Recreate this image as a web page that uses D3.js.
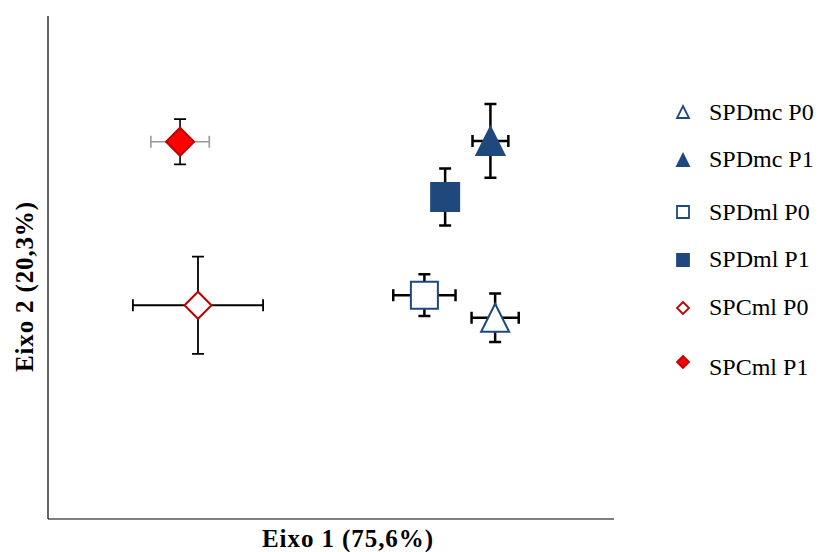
<!DOCTYPE html>
<html>
<head>
<meta charset="utf-8">
<script src="https://cdn.jsdelivr.net/npm/d3@7"></script>
<style>
body { margin: 0; background: white; }
</style>
</head>
<body>
<svg width="829" height="552"></svg>
<script>
var width = 829, height = 552
var plot = {left: 48, right: 614, top: 16, bottom: 519}
var serif = "'Liberation Serif', 'Times New Roman', Times, 'DejaVu Serif', serif"

// group names and PCA scores
var groups = ["SPDmc P0", "SPDmc P1", "SPDml P0", "SPDml P1", "SPCml P0", "SPCml P1"]
var eixo1 = [1.74, 1.69, 0.99, 1.21, -1.41, -1.60]
var eixo2 = [-0.60, 1.51, -0.33, 0.84, -0.45, 1.50]
var erro1 = [0.25, 0.19, 0.33, 0.12, 0.69, 0.31]
var erro2 = [0.29, 0.44, 0.25, 0.34, 0.58, 0.27]

var xTitle = "Eixo 1 (75,6%)"
var yTitle = "Eixo 2 (20,3%)"

var blue = "#1f497d"
var marks = [
    {shape: "triangle", fill: "white", stroke: blue, size: 28, bar: "#000", barW: 2.5},
    {shape: "triangle", fill: blue, stroke: blue, size: 28, bar: "#000", barW: 2.5},
    {shape: "square", fill: "white", stroke: blue, size: 27, bar: "#000", barW: 2.5},
    {shape: "square", fill: blue, stroke: blue, size: 28, bar: "#000", barW: 2.5},
    {shape: "diamond", fill: "white", stroke: "#c00000", size: 27, bar: "#000", barW: 1.8},
    {shape: "diamond", fill: "#ff0000", stroke: "#c00000", size: 28, bar: "#999", barW: 1.6}
]
var legendY = [112, 160, 212, 260, 308, 362]
var legendTextY = [112, 159, 212, 259, 307, 367]

var data = groups.map(function(g, i){
    return {name: g, x: eixo1[i], y: eixo2[i], ex: erro1[i], ey: erro2[i], m: marks[i]}
})

var x = d3.scaleLinear().domain([-3, 3]).range([plot.left, plot.right])
var y = d3.scaleLinear().domain([-3, 3]).range([plot.bottom, plot.top])

var shapePath = function(shape, s)
{
    var h = s / 2
    if (shape == "triangle")
        return "M0," + (-h) + "L" + h + "," + h + "L" + (-h) + "," + h + "Z"
    if (shape == "square")
        return "M" + (-h) + "," + (-h) + "H" + h + "V" + h + "H" + (-h) + "Z"
    return "M0," + (-h) + "L" + h + ",0L0," + h + "L" + (-h) + ",0Z"
}

var svg = d3.select("svg")

// axes without ticks
svg.append("line").attr("x1", plot.left).attr("x2", plot.left)
    .attr("y1", plot.top).attr("y2", plot.bottom)
    .attr("stroke", "#000").attr("stroke-width", 1.2)
svg.append("line").attr("x1", plot.left).attr("x2", plot.right)
    .attr("y1", plot.bottom).attr("y2", plot.bottom)
    .attr("stroke", "#000").attr("stroke-width", 1.2)

svg.append("text").attr("x", 262).attr("y", 547)
    .attr("font-family", serif).attr("font-weight", "bold")
    .attr("font-size", 25)
    .attr("textLength", 171).attr("lengthAdjust", "spacing")
    .text(xTitle)
svg.append("text").attr("transform", "translate(33,372) rotate(-90)")
    .attr("font-family", serif).attr("font-weight", "bold")
    .attr("font-size", 25)
    .attr("textLength", 170).attr("lengthAdjust", "spacing")
    .text(yTitle)

// error bars
var cap = 6
var bars = svg.append("g").selectAll("g").data(data).enter().append("g")
    .attr("stroke", function(d){ return d.m.bar })
    .attr("stroke-width", function(d){ return d.m.barW })
    .attr("fill", "none")

bars.append("path").attr("d", function(d){
    var x0 = x(d.x - d.ex), x1 = x(d.x + d.ex), yc = y(d.y)
    return "M" + x0 + "," + yc + "H" + x1 +
        "M" + x0 + "," + (yc - cap) + "V" + (yc + cap) +
        "M" + x1 + "," + (yc - cap) + "V" + (yc + cap)
})
bars.append("path").attr("stroke", "#000").attr("d", function(d){
    var y0 = y(d.y - d.ey), y1 = y(d.y + d.ey), xc = x(d.x)
    return "M" + xc + "," + y0 + "V" + y1 +
        "M" + (xc - cap) + "," + y0 + "H" + (xc + cap) +
        "M" + (xc - cap) + "," + y1 + "H" + (xc + cap)
})

// markers
svg.append("g").selectAll("path").data(data).enter().append("path")
    .attr("transform", function(d){ return "translate(" + x(d.x) + "," + y(d.y) + ")" })
    .attr("d", function(d){ return shapePath(d.m.shape, d.m.size) })
    .attr("fill", function(d){ return d.m.fill })
    .attr("stroke", function(d){ return d.m.stroke })
    .attr("stroke-width", 2)

// legend
var legend = svg.append("g").selectAll("g").data(data).enter().append("g")
legend.append("path")
    .attr("transform", function(d, i){ return "translate(683," + legendY[i] + ")" })
    .attr("d", function(d){ return shapePath(d.m.shape, 12) })
    .attr("fill", function(d){ return d.m.fill })
    .attr("stroke", function(d){ return d.m.stroke })
    .attr("stroke-width", 1.8)
legend.append("text")
    .attr("x", 709)
    .attr("y", function(d, i){ return legendTextY[i] })
    .attr("dy", "0.35em")
    .attr("font-family", serif)
    .attr("font-size", 24)
    .text(function(d){ return d.name })
</script>
</body>
</html>
